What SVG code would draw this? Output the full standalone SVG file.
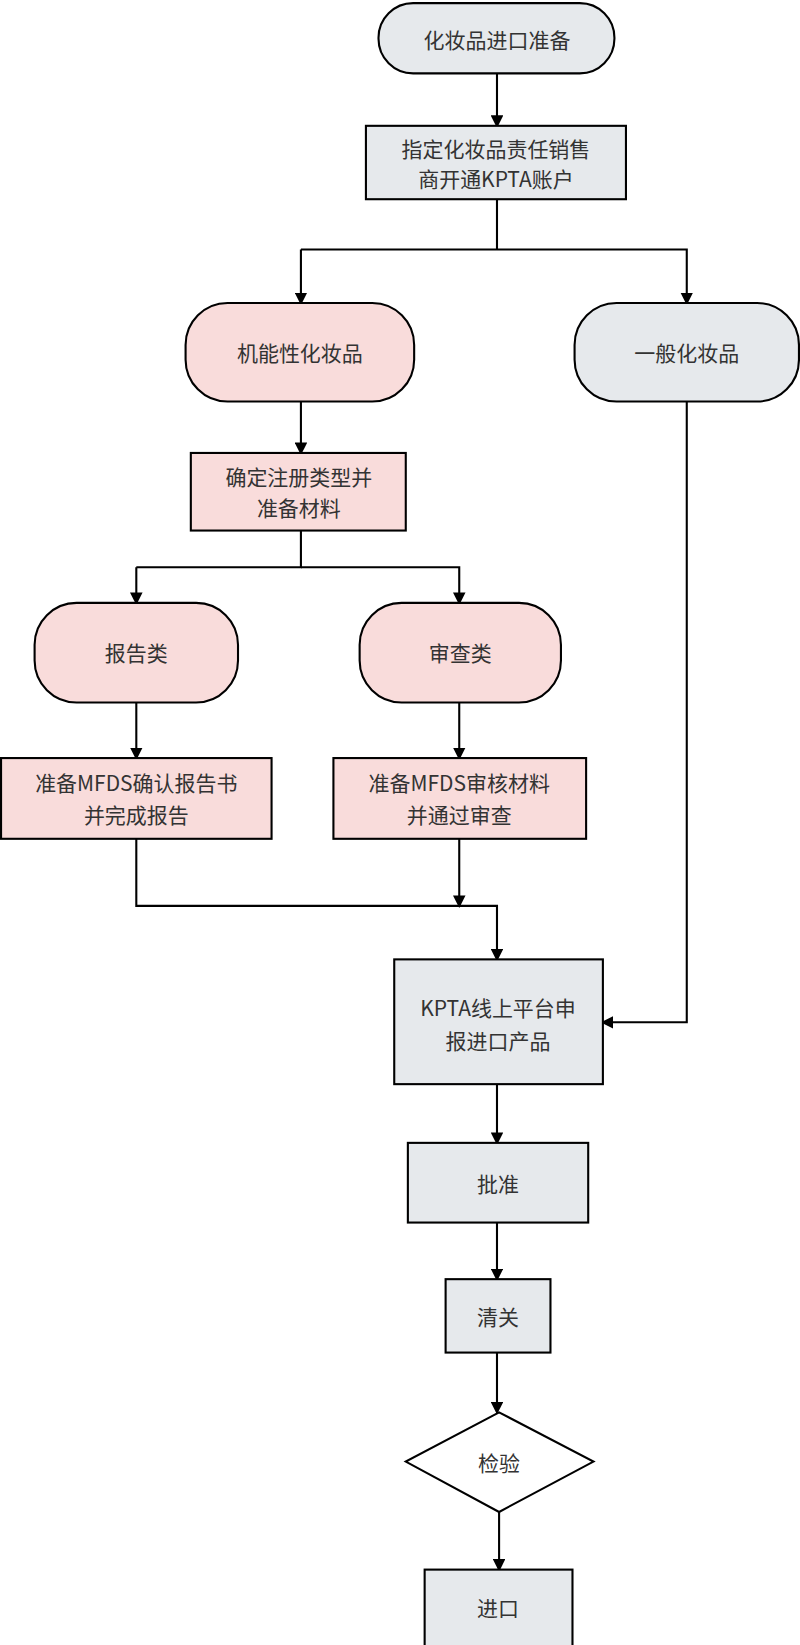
<svg xmlns="http://www.w3.org/2000/svg" width="800" height="1645" viewBox="0 0 800 1645">
<defs>
<marker id="ah" markerWidth="12" markerHeight="12" refX="10" refY="6" orient="auto" markerUnits="userSpaceOnUse"><path d="M0,0 L12,6 L0,12 Z" fill="#000"/></marker>
<style>
.g{fill:#e6e9ec;stroke:#000;stroke-width:2}
.p{fill:#f9dcdb;stroke:#000;stroke-width:2}
.w{fill:#fff;stroke:#000;stroke-width:2}
text{font-family:"Noto Sans CJK SC","Liberation Sans",sans-serif;font-size:20px;fill:#333;text-anchor:middle;dominant-baseline:central}
.c{fill:none;stroke:#000;stroke-width:2;marker-end:url(#ah)}
.n{fill:none;stroke:#000;stroke-width:2}
</style>
</defs>
<rect width="800" height="1645" fill="#fff"/>
<g transform="scale(1.0485)">
<g id="connectors">
<path class="c" d="M474,70 V120"/>
<path class="n" d="M474,190 V238"/>
<path class="c" d="M287,238 H474 M287,238 V289"/>
<path class="c" d="M474,238 H655 V289"/>
<path class="c" d="M287,383 V432"/>
<path class="n" d="M287,506 V541 H130"/>
<path class="c" d="M130,541 V575"/>
<path class="c" d="M287,541 H438 V575"/>
<path class="c" d="M130,670 V723"/>
<path class="c" d="M438,670 V723"/>
<path class="c" d="M130,800 V864 H474 V915"/>
<path class="c" d="M438,800 V864"/>
<path class="c" d="M655,383 V975 H575"/>
<path class="c" d="M474,1034 V1090"/>
<path class="c" d="M474,1166 V1220"/>
<path class="c" d="M474,1290 V1347"/>
<path class="c" d="M476,1442 V1497"/>
</g>
<g id="start"><rect class="g" x="361" y="3" width="225" height="67" rx="33"/><text x="474" y="37">化妆品进口准备</text></g>
<g id="kpta-account"><rect class="g" x="349" y="120" width="248" height="70"/><text x="473" y="141">指定化妆品责任销售</text><text x="473" y="170">商开通KPTA账户</text></g>
<g id="functional"><rect class="p" x="177" y="289" width="218" height="94" rx="40"/><text x="286" y="336">机能性化妆品</text></g>
<g id="general"><rect class="g" x="548" y="289" width="214" height="94" rx="40"/><text x="655" y="336" fill="#000">一般化妆品</text></g>
<g id="determine"><rect class="p" x="182" y="432" width="205" height="74"/><text x="285" y="454">确定注册类型并</text><text x="285" y="484">准备材料</text></g>
<g id="report"><rect class="p" x="33" y="575" width="194" height="95" rx="40"/><text x="130" y="622">报告类</text></g>
<g id="review"><rect class="p" x="343" y="575" width="192" height="95" rx="40"/><text x="439" y="622" fill="#000">审查类</text></g>
<g id="report-prep"><rect class="p" x="1" y="723" width="258" height="77"/><text x="130" y="746">准备MFDS确认报告书</text><text x="130" y="776">并完成报告</text></g>
<g id="review-prep"><rect class="p" x="318" y="723" width="241" height="77"/><text x="438" y="746">准备MFDS审核材料</text><text x="438" y="776">并通过审查</text></g>
<g id="declare"><rect class="g" x="376" y="915" width="199" height="119"/><text x="475" y="960">KPTA线上平台申</text><text x="475" y="992">报进口产品</text></g>
<g id="approve"><rect class="g" x="389" y="1090" width="172" height="76"/><text x="475" y="1128">批准</text></g>
<g id="clearance"><rect class="g" x="425" y="1220" width="100" height="70"/><text x="475" y="1255">清关</text></g>
<g id="inspect"><polygon class="w" points="476,1347 566,1394 476,1442 387,1394"/><text x="476" y="1394">检验</text></g>
<g id="import"><rect class="g" x="405" y="1497" width="141" height="73"/><text x="475" y="1533">进口</text></g>
</g>
</svg>
